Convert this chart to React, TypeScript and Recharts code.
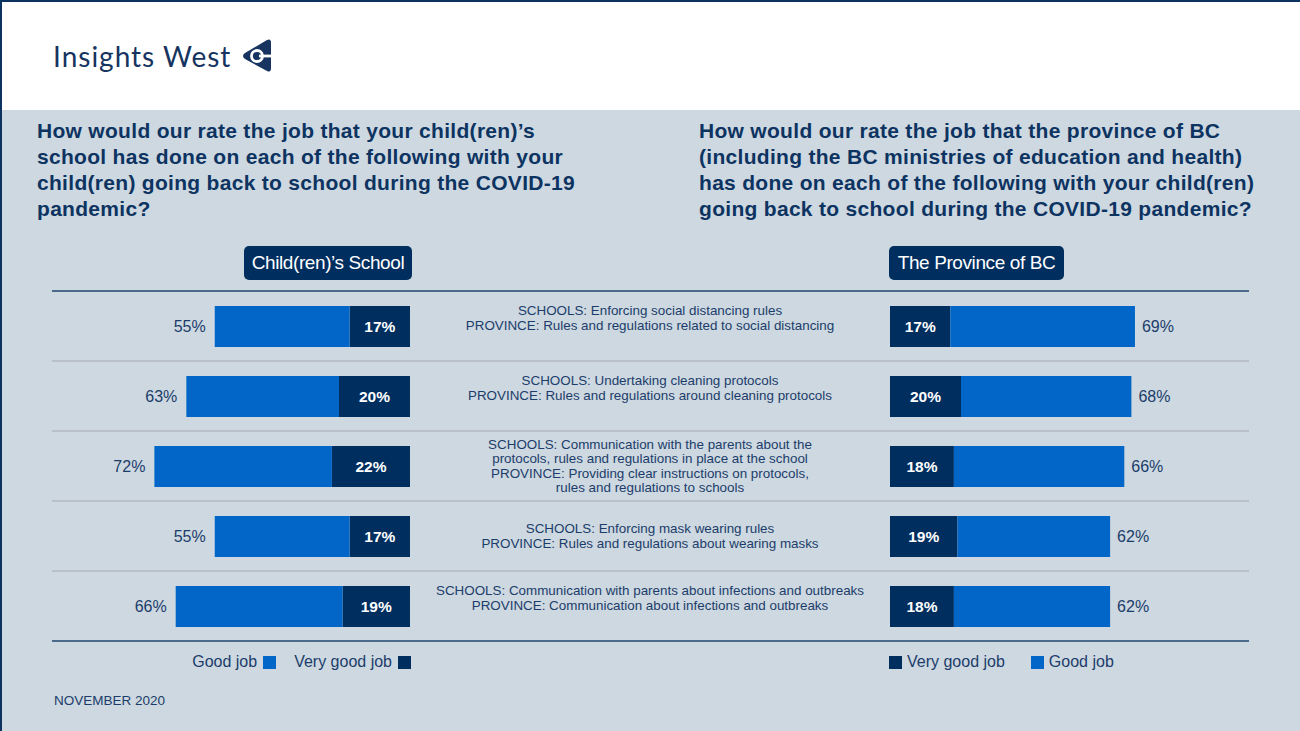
import React from "react";
import { Bar, BarChart, LabelList, XAxis, YAxis } from "recharts";

const categories = [
  "SCHOOLS: Enforcing social distancing rules\nPROVINCE: Rules and regulations related to social distancing",
  "SCHOOLS: Undertaking cleaning protocols\nPROVINCE: Rules and regulations around cleaning protocols",
  "SCHOOLS: Communication with the parents about the\nprotocols, rules and regulations in place at the school\nPROVINCE: Providing clear instructions on protocols,\nrules and regulations to schools",
  "SCHOOLS: Enforcing mask wearing rules\nPROVINCE: Rules and regulations about wearing masks",
  "SCHOOLS: Communication with parents about infections and outbreaks\nPROVINCE: Communication about infections and outbreaks",
];

// totals = good + very good
const schoolTotal = [55, 63, 72, 55, 66];
const schoolVeryGood = [17, 20, 22, 17, 19];
const provinceTotal = [69, 68, 66, 62, 62];
const provinceVeryGood = [17, 20, 18, 19, 18];

const schoolData = categories.map((name, i) => ({
  name,
  veryGood: schoolVeryGood[i],
  good: schoolTotal[i] - schoolVeryGood[i],
  total: schoolTotal[i],
}));
const provinceData = categories.map((name, i) => ({
  name,
  veryGood: provinceVeryGood[i],
  good: provinceTotal[i] - provinceVeryGood[i],
  total: provinceTotal[i],
}));

const FONT = "'Liberation Sans', Arial, Helvetica, sans-serif";
const BG = "#cdd8e1";
const NAVY = "#002e5f";
const BLUE = "#0166c7";
const TEXT = "#1c3d6a";
const TITLE = "#0d3361";

// small vertical nudges of the centre texts, as in the slide
const labelNudge = [-8, -8, 0, 0, -8];

const CenterTick = (props: any) => {
  const { x, y, payload } = props;
  const idx = categories.indexOf(payload.value);
  const lines = String(payload.value).split("\n");
  const lh = 14.3;
  const cx = x + 240;
  const startY = y - ((lines.length - 1) * lh) / 2 + (labelNudge[idx] || 0);
  return (
    <text textAnchor="middle" fontSize={13.4} fill={TEXT} fontFamily={FONT}>
      {lines.map((l, i) => (
        <tspan key={i} x={cx} y={startY + i * lh} dominantBaseline="central">
          {l}
        </tspan>
      ))}
    </text>
  );
};

const boxOf = (props: any) => {
  const vb = props.viewBox || {};
  const x = props.x ?? vb.x;
  const y = props.y ?? vb.y;
  const width = props.width ?? vb.width;
  const height = props.height ?? vb.height;
  return { x, y, width, height };
};

const innerLabel = (props: any) => {
  const { x, y, width, height } = boxOf(props);
  return (
    <text
      x={x + width / 2}
      y={y + height / 2}
      textAnchor="middle"
      dominantBaseline="central"
      fill="#ffffff"
      fontWeight="bold"
      fontSize={15.5}
      fontFamily={FONT}
    >
      {props.value}%
    </text>
  );
};

const outerLabel = (side: "left" | "right") => (props: any) => {
  const { x, y, width, height } = boxOf(props);
  const l = Math.min(x, x + width);
  const r = Math.max(x, x + width);
  return (
    <text
      x={side === "left" ? l - 9 : r + 7}
      y={y + height / 2}
      textAnchor={side === "left" ? "end" : "start"}
      dominantBaseline="central"
      fill={TEXT}
      fontSize={16}
      fontFamily={FONT}
    >
      {props.value}%
    </text>
  );
};

const Swatch = ({ color }: { color: string }) => (
  <span style={{ display: "inline-block", width: 13, height: 13, background: color }} />
);

const Gap = ({ w }: { w: number }) => <span style={{ display: "inline-block", width: w }} />;

const Badge = ({ left, width, text }: { left: number; width: number; text: string }) => (
  <div
    style={{
      position: "absolute",
      left,
      top: 246,
      width,
      height: 34,
      background: NAVY,
      borderRadius: 5,
      color: "#fff",
      fontSize: 19,
      lineHeight: "34px",
      textAlign: "center",
      letterSpacing: -0.4,
      whiteSpace: "nowrap",
    }}
  >
    {text}
  </div>
);

const hLine = (top: number, color: string) => (
  <div
    key={top}
    style={{ position: "absolute", left: 52, top, width: 1197, height: 2, background: color }}
  />
);

const titleStyle: React.CSSProperties = {
  position: "absolute",
  top: 118,
  fontSize: 21,
  lineHeight: "26px",
  fontWeight: "bold",
  color: TITLE,
  whiteSpace: "nowrap",
  letterSpacing: 0.3,
};

const legendStyle: React.CSSProperties = {
  position: "absolute",
  top: 652,
  display: "flex",
  alignItems: "center",
  fontSize: 16,
  color: TEXT,
  lineHeight: "20px",
  whiteSpace: "nowrap",
};

export default function App() {
  return (
    <div
      style={{
        position: "absolute",
        left: 0,
        top: 0,
        width: 1300,
        height: 731,
        background: BG,
        overflow: "hidden",
        fontFamily: FONT,
      }}
    >
      {/* header */}
      <div style={{ position: "absolute", left: 0, top: 0, width: 1300, height: 110, background: "#fff" }} />
      <div
        style={{
          position: "absolute",
          left: 53,
          top: 38,
          fontFamily: "Lato, 'Open Sans', sans-serif",
          fontSize: 28,
          letterSpacing: 1,
          color: "#16345f",
          lineHeight: "36px",
          whiteSpace: "nowrap",
        }}
      >
        Insights West
      </div>
      <svg style={{ position: "absolute", left: 240, top: 36 }} width={34} height={40}>
        <path d="M27 4 Q31 2 31 7 L31 32 Q31 37 27 35 L5 23 Q1 20 5 17 Z" fill="#16345f" />
        <circle cx={17} cy={20} r={5.5} fill="none" stroke="#fff" strokeWidth={2.8} />
        <rect x={19} y={18.6} width={13} height={2.8} fill="#fff" />
      </svg>

      {/* titles */}
      <div style={{ ...titleStyle, left: 37 }}>
        How would our rate the job that your child(ren)’s
        <br />
        school has done on each of the following with your
        <br />
        child(ren) going back to school during the COVID-19
        <br />
        pandemic?
      </div>
      <div style={{ ...titleStyle, left: 699 }}>
        How would our rate the job that the province of BC
        <br />
        (including the BC ministries of education and health)
        <br />
        has done on each of the following with your child(ren)
        <br />
        going back to school during the COVID-19 pandemic?
      </div>

      <Badge left={244} width={168} text="Child(ren)’s School" />
      <Badge left={889} width={175} text="The Province of BC" />

      {/* row rules */}
      {[361, 431, 501, 571].map((t) => hLine(t - 1, "#b9c0c7"))}
      {hLine(290, "#4a6a8c")}
      {hLine(640, "#4a6a8c")}

      {/* left chart: child(ren)'s school */}
      <div style={{ position: "absolute", left: 0, top: 291 }}>
        <BarChart
          width={890}
          height={350}
          data={schoolData}
          layout="vertical"
          margin={{ top: 0, right: 0, bottom: 0, left: 55 }}
        >
          <XAxis type="number" domain={[0, 100]} reversed hide />
          <YAxis
            type="category"
            dataKey="name"
            orientation="right"
            width={480}
            axisLine={false}
            tickLine={false}
            tickSize={0}
            tickMargin={0}
            interval={0}
            tick={<CenterTick />}
          />
          <Bar dataKey="veryGood" stackId="s" fill={NAVY} barSize={41} isAnimationActive={false}>
            <LabelList dataKey="veryGood" content={innerLabel} />
          </Bar>
          <Bar dataKey="good" stackId="s" fill={BLUE} barSize={41} isAnimationActive={false}>
            <LabelList dataKey="total" content={outerLabel("left")} />
          </Bar>
        </BarChart>
      </div>

      {/* right chart: province of BC */}
      <div style={{ position: "absolute", left: 890, top: 291 }}>
        <BarChart
          width={410}
          height={350}
          data={provinceData}
          layout="vertical"
          margin={{ top: 0, right: 55, bottom: 0, left: 0 }}
        >
          <XAxis type="number" domain={[0, 100]} hide />
          <YAxis type="category" dataKey="name" hide />
          <Bar dataKey="veryGood" stackId="s" fill={NAVY} barSize={41} isAnimationActive={false}>
            <LabelList dataKey="veryGood" content={innerLabel} />
          </Bar>
          <Bar dataKey="good" stackId="s" fill={BLUE} barSize={41} isAnimationActive={false}>
            <LabelList dataKey="total" content={outerLabel("right")} />
          </Bar>
        </BarChart>
      </div>

      {/* legends */}
      <div style={{ ...legendStyle, right: 1300 - 411 }}>
        <span>Good job</span>
        <Gap w={6} />
        <Swatch color={BLUE} />
        <Gap w={18} />
        <span>Very good job</span>
        <Gap w={6} />
        <Swatch color={NAVY} />
      </div>
      <div style={{ ...legendStyle, left: 889 }}>
        <Swatch color={NAVY} />
        <Gap w={5} />
        <span>Very good job</span>
        <Gap w={26} />
        <Swatch color={BLUE} />
        <Gap w={5} />
        <span>Good job</span>
      </div>

      <div style={{ position: "absolute", left: 54, top: 693, fontSize: 13.5, color: TEXT, whiteSpace: "nowrap" }}>
        NOVEMBER 2020
      </div>

      {/* slide frame (top and left edges) */}
      <div style={{ position: "absolute", left: 0, top: 0, width: 1300, height: 2, background: TITLE }} />
      <div style={{ position: "absolute", left: 0, top: 0, width: 2, height: 731, background: TITLE }} />
    </div>
  );
}
